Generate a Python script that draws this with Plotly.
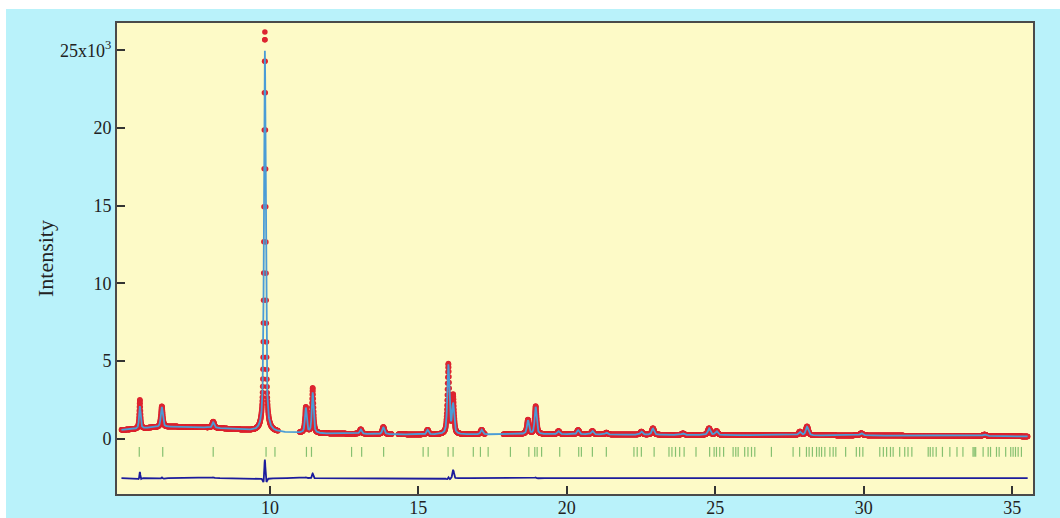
import numpy as np
import plotly.graph_objects as go

# ---- background knots (2-theta in degrees, counts) ----
bg_tth = [4.85, 5.3, 6.0, 6.8, 7.5, 8.3, 9.0, 9.5, 10.5, 11.8, 13.0, 15.0,
          17.0, 18.5, 20.0, 22.0, 24.0, 26.0, 28.0, 30.0, 32.0, 34.0, 35.7]
bg_cts = [560, 600, 720, 780, 760, 680, 580, 500, 410, 340, 320, 270,
          280, 300, 290, 270, 250, 240, 225, 215, 200, 180, 150]

# ---- fitted reflections: position, calculated / observed height above background, FWHM ----
peak_pos = [5.62, 6.36, 8.09, 9.83, 11.21, 11.44, 13.06, 13.82, 15.31, 16.01,
            16.17, 17.13, 18.69, 18.95, 19.72, 20.38, 20.86, 21.33, 22.51, 22.90,
            23.91, 24.79, 25.04, 27.85, 28.09, 29.92, 34.07]
peak_calc = [1450, 1300, 350, 24500, 1600, 2600, 280, 450, 300, 4450,
             1900, 300, 880, 1750, 200, 270, 220, 120, 200, 400,
             100, 420, 250, 220, 540, 150, 100]
peak_obs = [1850, 1350, 400, 25700, 1650, 2900, 290, 460, 300, 4500,
            2450, 300, 920, 1800, 200, 280, 220, 120, 200, 420,
            100, 430, 250, 230, 570, 150, 100]
calc_fwhm = [0.06, 0.08, 0.08, 0.07, 0.07, 0.07, 0.08, 0.08, 0.08, 0.08,
             0.08, 0.08, 0.08, 0.08, 0.09, 0.09, 0.09, 0.09, 0.09, 0.09,
             0.10, 0.10, 0.10, 0.10, 0.10, 0.11, 0.12]
obs_fwhm = [0.05, 0.075, 0.08, 0.067, 0.07, 0.067, 0.08, 0.08, 0.08, 0.077,
            0.074, 0.08, 0.08, 0.078, 0.09, 0.09, 0.09, 0.09, 0.09, 0.09,
            0.10, 0.10, 0.10, 0.10, 0.10, 0.11, 0.12]

# ---- excluded 2-theta regions (no observed data) ----
excl_lo = [10.27, 14.10, 17.24]
excl_hi = [11.00, 14.32, 17.86]

# ---- Bragg reflection positions ----
hkl_pos = [5.60, 6.39, 8.09, 9.87, 10.17, 11.23, 11.40, 12.75, 13.09, 13.83,
           15.16, 15.33, 16.00, 16.17, 16.85, 17.09, 17.35, 18.10, 18.72, 18.92,
           19.00, 19.15, 19.76, 20.40, 20.49, 20.86, 21.33, 22.26, 22.37, 22.51,
           22.94, 23.44, 23.54, 23.66, 23.80, 23.95, 24.35, 24.81, 24.96, 25.04,
           25.15, 25.28, 25.60, 25.69, 25.77, 25.99, 26.10, 26.22, 26.33, 26.89,
           27.62, 27.84, 28.07, 28.16, 28.27, 28.41, 28.50, 28.58, 28.69, 28.86,
           28.97, 29.06, 29.39, 29.75, 29.86, 29.97, 30.54, 30.66, 30.77, 30.90,
           30.99, 31.21, 31.38, 31.49, 31.62, 32.17, 32.24, 32.33, 32.44, 32.65,
           32.90, 33.14, 33.34, 33.68, 33.72, 33.77, 34.02, 34.19, 34.27, 34.47,
           34.56, 34.78, 34.95, 35.03, 35.11, 35.20, 35.31]

DIFF_OFFSET = -2530
TICK_TOP, TICK_BOT = -520, -1160


def pseudo_voigt(x, x0, fwhm, eta=0.6):
    d = (x - x0) / (fwhm / 2.0)
    lor = 1.0 / (1.0 + d * d)
    gau = np.exp(-np.log(2.0) * d * d)
    return eta * lor + (1.0 - eta) * gau


tth = np.arange(5.0, 35.52, 0.005)
bg = np.interp(tth, bg_tth, bg_cts)
calc = bg.copy()
obs = bg.copy()
for p, hc, ho, wc, wo in zip(peak_pos, peak_calc, peak_obs, calc_fwhm, obs_fwhm):
    calc += hc * pseudo_voigt(tth, p, wc)
    obs += ho * pseudo_voigt(tth, p, wo)

mask = np.zeros_like(tth, dtype=bool)
for lo, hi in zip(excl_lo, excl_hi):
    mask |= (tth >= lo) & (tth <= hi)

obs_plot = np.where(mask, np.nan, obs)
diff = np.where(mask, 0.0, obs - calc) + DIFF_OFFSET

tick_x, tick_y = [], []
for h in hkl_pos:
    tick_x += [h, h, None]
    tick_y += [TICK_TOP, TICK_BOT, None]

fig = go.Figure()
fig.add_trace(go.Scatter(x=tick_x, y=tick_y, mode="lines",
                         line=dict(color="#86c070", width=1.2), name="reflections"))
fig.add_trace(go.Scatter(x=tth, y=obs_plot, mode="markers",
                         marker=dict(color="#dc2430", size=5.5), name="observed"))
fig.add_trace(go.Scatter(x=tth, y=calc, mode="lines",
                         line=dict(color="#4a9cd6", width=1.8), name="calculated"))
fig.add_trace(go.Scatter(x=tth, y=diff, mode="lines",
                         line=dict(color="#1c1c9c", width=1.8), name="difference"))

serif = "Liberation Serif, Times New Roman, serif"
fig.update_layout(
    width=1060, height=518,
    margin=dict(l=117, r=27, t=23, b=24, autoexpand=False),
    paper_bgcolor="#b9f2fa",
    plot_bgcolor="#fdfac7",
    showlegend=False,
    font=dict(family=serif, size=18, color="#222222"),
    xaxis=dict(range=[4.85, 35.7], tickvals=[10, 15, 20, 25, 30, 35],
               ticks="inside", ticklen=8, tickwidth=1.5, tickcolor="#333333",
               ticklabelstandoff=-4,
               showline=True, linecolor="#4a4a4a", linewidth=2, mirror=True,
               showgrid=False, zeroline=False),
    yaxis=dict(range=[-3550, 26750],
               tickvals=[0, 5000, 10000, 15000, 20000, 25000],
               ticktext=["0", "5", "10", "15", "20", "25x10<sup>3</sup>"],
               ticks="inside", ticklen=8, tickwidth=1.5, tickcolor="#333333",
               showline=True, linecolor="#4a4a4a", linewidth=2, mirror=True,
               showgrid=False, zeroline=False,
               title=dict(text="Intensity", font=dict(size=22), standoff=0)),
    shapes=[
        dict(type="rect", xref="paper", yref="paper", x0=-0.2, x1=1.1,
             y0=(494 - 9) / 471, y1=1.2, fillcolor="white", line_width=0, layer="below"),
        dict(type="rect", xref="paper", yref="paper", x0=-0.2, x1=(6 - 117) / 916,
             y0=-0.2, y1=1.2, fillcolor="white", line_width=0, layer="below"),
    ],
)

fig.write_html("out.html")
